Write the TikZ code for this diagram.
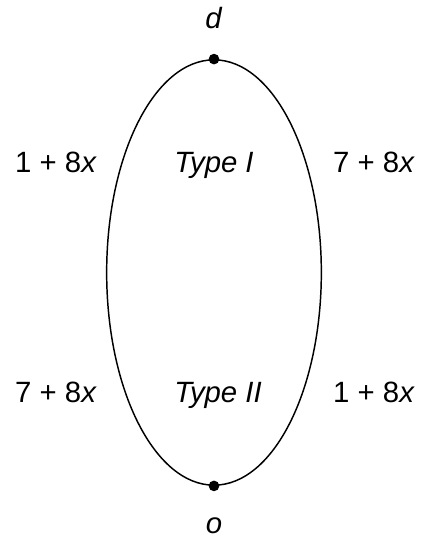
\documentclass[tikz,border=0pt]{standalone}
\usepackage{fontspec}
\setmainfont{Liberation Sans}
\usetikzlibrary{shapes.geometric, positioning}

\begin{document}
\begin{tikzpicture}[
  x=0.75pt, y=-0.75pt,
  route/.style={ellipse, draw, line width=1.1pt, minimum width=161pt, minimum height=319pt, inner sep=0pt},
  vertex/.style={circle, fill, inner sep=0pt, minimum size=8pt},
  lbl/.style={font=\fontsize{22}{26}\selectfont, inner sep=0pt, anchor=base}
]
\useasboundingbox (0,0) rectangle (422,545);

\node[route] (loop) at (214,272.5) {};
\node[vertex] (d) at (loop.north) {};
\node[vertex] (o) at (loop.south) {};

\node[lbl] (dlbl) at (214,29) {\textit{d}};
\node[lbl] (olbl) at (214,533) {\textit{o}};

\node[lbl] (costA) at (56,173) {1 + 8\textit{x}};
\node[lbl] (typeA) at (214,173) {\textit{Type I}};
\node[lbl] (costB) at (374,173) {7 + 8\textit{x}};

\node[lbl] (costC) at (56,402) {7 + 8\textit{x}};
\node[lbl] (typeB) at (218,402) {\textit{Type II}};
\node[lbl] (costD) at (374,402) {1 + 8\textit{x}};
\end{tikzpicture}
\end{document}
